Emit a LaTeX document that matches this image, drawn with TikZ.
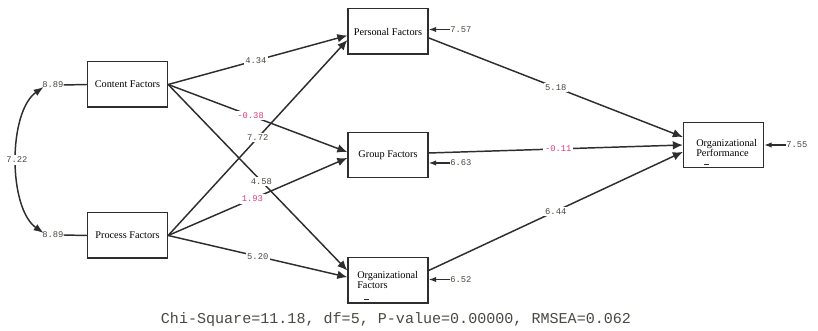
\documentclass[tikz,border=0pt]{standalone}
\usepackage{fontspec}
\setmainfont{Liberation Serif}
\setmonofont{Liberation Mono}
\usetikzlibrary{arrows.meta}
\definecolor{ink}{HTML}{2E2E2E}
\definecolor{numgray}{HTML}{4A4A40}
\definecolor{negpink}{HTML}{E23C7E}
\tikzset{
  varbox/.style={draw=ink, line width=1pt, minimum width=60pt, minimum height=34pt,
                 inner sep=0pt, font=\fontsize{7.7}{8}\selectfont},
  boxtext/.style={inner sep=0pt, align=left, font=\fontsize{7.7}{7}\selectfont},
  coef/.style={fill=white, inner sep=1.2pt, text=numgray, font=\ttfamily\fontsize{6.6}{7}\selectfont},
  negcoef/.style={coef, text=negpink},
  errval/.style={inner sep=0pt, text=numgray, font=\ttfamily\fontsize{6.6}{7}\selectfont},
  path/.style={draw=ink, line width=1.1pt, -{Latex[length=7.5pt,width=6.5pt]}},
  errpath/.style={draw=ink, line width=1.1pt, -{Latex[length=5.5pt,width=4pt]}},
  tick/.style={inner sep=0pt, text=ink}
}
\begin{document}
\begin{tikzpicture}[x=0.75pt,y=-0.75pt]
\useasboundingbox[fill=white] (0,0) rectangle (818,331);

% exogenous variables
\node[varbox] (cf) at (127.5,84.5) {Content Factors};
\node[varbox] (prf) at (127.5,235.5) {Process Factors};

% mediating factors
\node[varbox] (pers) at (388,31.5) {Personal Factors};
\node[varbox] (grp) at (388,155) {Group Factors};
\node[varbox] (orgf) at (388,280.5) {};
\node[boxtext, anchor=west] (orgft) at (357,280) {Organizational\\Factors};
\node[tick] (orgfd) at (366.5,299.5) {\rule{3.5pt}{0.6pt}};

% outcome
\node[varbox] (perf) at (723.5,145) {};
\node[boxtext, anchor=west] (perft) at (696,148) {Organizational\\Performance};
\node[tick] (perfd) at (706.5,164.5) {\rule{3.5pt}{0.6pt}};

% variances of the exogenous variables and their covariance
\node[errval, anchor=west] (v1) at (42,85) {8.89};
\node[errval, anchor=west] (v2) at (42,235) {8.89};
\draw[ink, line width=1.1pt] (v1.east) -- (cf.west);
\draw[ink, line width=1.1pt] (v2.east) -- (prf.west);
\draw[draw=ink, line width=1.1pt, {Latex[length=7.5pt,width=5.5pt]}-{Latex[length=7.5pt,width=5.5pt]}]
  ([xshift=1.2pt,yshift=-1.5pt]v1.west) .. controls (8,112) and (8,208) ..
  node[coef, pos=0.5] (cov) {7.22} ([xshift=1.2pt,yshift=1.5pt]v2.west);

% paths from the exogenous variables
\draw[path] (cf.east) -- node[coef, pos=0.49] (c1) {4.34} ([yshift=-3pt]pers.west);
\draw[path] (cf.east) -- node[negcoef, pos=0.46] (c2) {-0.38} ([yshift=2.2pt]grp.west);
\draw[path] (cf.east) -- node[coef, pos=0.52] (c3) {4.58} ([yshift=7.5pt]orgf.west);
\draw[path] (prf.east) -- node[coef, pos=0.5] (c4) {7.72} ([yshift=-6.4pt]pers.west);
\draw[path] (prf.east) -- node[negcoef, pos=0.47] (c5) {1.93} ([yshift=-2.2pt]grp.west);
\draw[path] (prf.east) -- node[coef, pos=0.5] (c6) {5.20} ([yshift=2.5pt]orgf.west);

% paths to organizational performance
\draw[path] ([yshift=-4.8pt]pers.east) -- node[coef, pos=0.5] (c7) {5.18} ([yshift=6pt]perf.west);
\draw[path] ([yshift=1.5pt]grp.east) -- node[negcoef, pos=0.51] (c8) {-0.11} (perf.west);
\draw[path] ([yshift=7.5pt]orgf.east) -- node[coef, pos=0.5] (c9) {6.44} ([yshift=-5.2pt]perf.west);

% error variances
\node[errval, anchor=west] (e1) at (450,29.5) {7.57};
\node[errval, anchor=west] (e2) at (450,163) {6.63};
\node[errval, anchor=west] (e3) at (450,279.5) {6.52};
\node[errval, anchor=west] (e4) at (786,145) {7.55};
\draw[errpath] (e1.west) -- (e1.west -| pers.east);
\draw[errpath] (e2.west) -- (e2.west -| grp.east);
\draw[errpath] (e3.west) -- (e3.west -| orgf.east);
\draw[errpath] (e4.west) -- (e4.west -| perf.east);

% fit statistics
\node[inner sep=0pt, text=numgray, font=\ttfamily\fontsize{11.3}{12}\selectfont] (fit) at (396,320)
  {Chi-Square=11.18, df=5, P-value=0.00000, RMSEA=0.062};
\end{tikzpicture}
\end{document}
